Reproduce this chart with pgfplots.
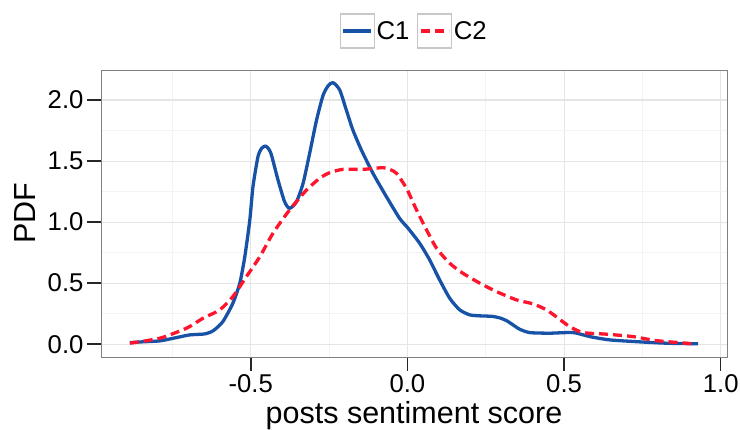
\documentclass[border=0pt]{standalone}
\usepackage{fontspec}
\setmainfont{Liberation Sans}
\usepackage{pgfplots}
\usepackage{pgfplotstable}
\pgfplotsset{compat=1.18}

\definecolor{cone}{RGB}{24,82,166}
\definecolor{ctwo}{RGB}{255,20,45}
\definecolor{gridmaj}{RGB}{229,229,229}
\definecolor{gridmin}{RGB}{243,243,243}

% C1 density
\pgfplotstableread{
x y
-0.886 0.013
-0.840 0.020
-0.790 0.027
-0.737 0.054
-0.695 0.076
-0.647 0.084
-0.620 0.110
-0.589 0.185
-0.557 0.336
-0.535 0.500
-0.519 0.717
-0.503 1.018
-0.493 1.290
-0.477 1.536
-0.465 1.605
-0.453 1.623
-0.443 1.600
-0.434 1.550
-0.413 1.345
-0.392 1.167
-0.376 1.113
-0.354 1.167
-0.333 1.318
-0.312 1.564
-0.290 1.836
-0.269 2.040
-0.252 2.120
-0.237 2.142
-0.216 2.082
-0.195 1.918
-0.174 1.754
-0.147 1.591
-0.110 1.400
-0.067 1.208
-0.025 1.031
0.002 0.950
0.039 0.827
0.071 0.690
0.103 0.526
0.135 0.376
0.167 0.281
0.199 0.240
0.231 0.232
0.270 0.228
0.295 0.215
0.316 0.193
0.337 0.158
0.358 0.123
0.390 0.095
0.454 0.090
0.529 0.095
0.582 0.062
0.646 0.035
0.741 0.019
0.827 0.008
0.928 0.003
}\dataone

% C2 density
\pgfplotstableread{
x y
-0.886 0.008
-0.790 0.049
-0.705 0.131
-0.652 0.213
-0.599 0.281
-0.557 0.390
-0.514 0.553
-0.471 0.717
-0.429 0.909
-0.376 1.100
-0.322 1.263
-0.280 1.359
-0.248 1.405
-0.206 1.432
-0.142 1.432
-0.078 1.446
-0.055 1.430
-0.035 1.400
-0.003 1.277
0.029 1.100
0.061 0.936
0.093 0.786
0.135 0.663
0.177 0.581
0.231 0.500
0.284 0.431
0.348 0.363
0.401 0.330
0.444 0.281
0.481 0.213
0.518 0.144
0.560 0.095
0.635 0.082
0.720 0.062
0.795 0.029
0.912 0.003
}\datatwo

\begin{document}
\begin{tikzpicture}
\begin{axis}[
    name=ax,
    scale only axis,
    width=626pt, height=287pt,
    xmin=-0.978, xmax=1.020,
    ymin=-0.105, ymax=2.246,
    xtick={-0.5,0,0.5,1},
    xticklabels={-0.5,0.0,0.5,1.0},
    ytick={0,0.5,1,1.5,2},
    yticklabels={0.0,0.5,1.0,1.5,2.0},
    minor xtick={-0.75,-0.25,0.25,0.75},
    minor ytick={0.25,0.75,1.25,1.75},
    grid=both,
    major grid style={gridmaj, line width=1.1pt},
    minor grid style={gridmin, line width=0.9pt},
    axis line style={black!50, line width=0.9pt},
    tick align=outside, tick pos=left,
    major tick length=14pt, minor tick length=0pt,
    major tick style={black!85, line width=1.5pt},
    ticklabel style={font=\fontsize{25.7}{26}\selectfont},
    xlabel={posts sentiment score},
    ylabel={PDF},
    label style={font=\fontsize{30.5}{31}\selectfont},
    xlabel style={at={(axis description cs:0.5,-0.232)}, anchor=base},
    ylabel style={at={(axis description cs:-0.1054,0.5)}, anchor=base},
    legend style={
        at={(axis description cs:0.5,1)}, anchor=south, yshift=21pt,
        draw=none, fill=none, inner sep=0pt,
        legend columns=2,
        font=\fontsize{25.7}{26}\selectfont,
        nodes={inner sep=1.5pt},
        /tikz/every even column/.append style={column sep=6pt},
    },
    legend image code/.code={
        \draw[draw=black!22, line width=1.4pt, solid, fill=white] (0pt,-17pt) rectangle (34pt,17pt);
        \draw[#1, line cap=butt] (3pt,0pt) -- (31pt,0pt);
    },
]
\addplot[cone, line width=3.3pt, smooth, tension=0.4, line join=round] table[x=x,y=y] {\dataone};
\addlegendentry{C1}
\addplot[ctwo, line width=3.3pt, smooth, tension=0.4, dash pattern=on 9pt off 5pt] table[x=x,y=y] {\datatwo};
\addlegendentry{C2}
\end{axis}
\pgfresetboundingbox
\path ([shift={(-101pt,-73pt)}]ax.south west) rectangle ([shift={(13pt,70pt)}]ax.north east);
\end{tikzpicture}
\end{document}
